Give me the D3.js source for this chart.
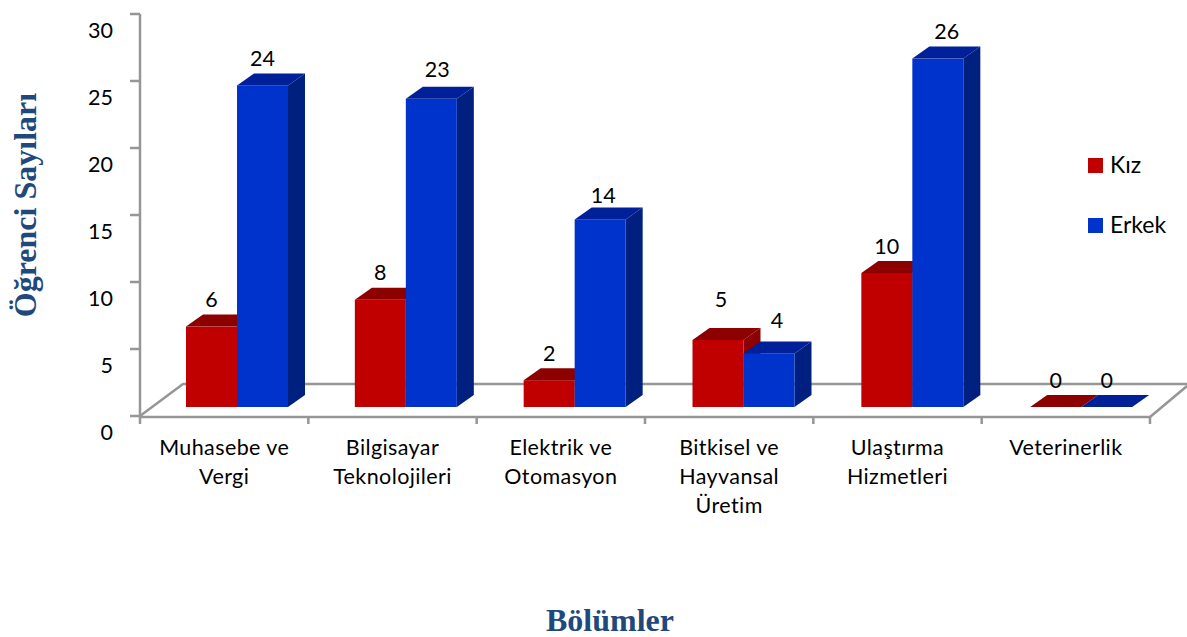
<!DOCTYPE html>
<meta charset="utf-8">
<style>
html, body { margin: 0; padding: 0; background: #fff; }
svg { display: block; }
text { font-family: Lato, sans-serif; fill: #000; }
.axis path, .axis line, .floor { fill: none; stroke: #969696; stroke-width: 2.5px; }
.title { font-family: "Liberation Serif", serif; font-weight: bold; font-size: 32px; fill: #1f497d; }
</style>
<body>
<script src="https://d3js.org/d3.v7.min.js"></script>
<script>
var categories = [
  ["Muhasebe ve", "Vergi"],
  ["Bilgisayar", "Teknolojileri"],
  ["Elektrik ve", "Otomasyon"],
  ["Bitkisel ve", "Hayvansal", "Üretim"],
  ["Ulaştırma", "Hizmetleri"],
  ["Veterinerlik"]
];
var kiz = [6, 8, 2, 5, 10, 0];
var erkek = [24, 23, 14, 4, 26, 0];
var seriesNames = ["Kız", "Erkek"];
var yTicks = [0, 5, 10, 15, 20, 25, 30];

var width = 1187, height = 637;
var depthX = 17, depthY = 12;   // 3d offset of the bars
var floorFront = 415.5, lift = 8.5;

var colors = {
  "Kız": {front: "#c00000", top: "#8c0000", side: "#8c0000"},
  "Erkek": {front: "#0033cc", top: "#00209a", side: "#002080"}
};

// hand placed value labels, the original chart moved some of them
var labelNudge = {
  "Erkek1": [6, -2],
  "Erkek2": [3, 3],
  "Kız3": [3, -14],
  "Erkek3": [8, -6],
  "Erkek4": [9, 0]
};

var svg = d3.select("body").append("svg")
    .attr("width", width)
    .attr("height", height);

var x = d3.scaleBand()
    .domain(d3.range(categories.length))
    .range([140, 1150]);

// bars sit on the floor a bit further right than the axis cells
var barX = d3.scaleBand()
    .domain(d3.range(categories.length))
    .range([186, 1199]);

var y = d3.scaleLinear()
    .domain([0, 30])
    .range([floorFront, 13.5]);

var inner = d3.scaleBand()
    .domain(seriesNames)
    .range([0, 102]);

// floor
svg.append("path")
    .attr("class", "floor")
    .attr("d", "M140,416L183,384H1187");
svg.append("path")
    .attr("class", "floor")
    .attr("d", "M1150,417L1187,386");

var yAxis = d3.axisLeft(y).tickValues(yTicks).tickSize(10).tickPadding(17);
var gy = svg.append("g")
    .attr("class", "axis")
    .attr("transform", "translate(140,0)")
    .call(yAxis);
gy.selectAll("text")
    .attr("dy", "1.1em")
    .style("font-size", "21.5px");
gy.select(".domain").attr("d", "M0,14V" + floorFront);

var xAxis = d3.axisBottom(x).tickValues([]).tickSize(0);
var gx = svg.append("g")
    .attr("class", "axis")
    .attr("transform", "translate(0,417)")
    .call(xAxis);
gx.select(".domain").attr("d", "M140,0H1150");
gx.selectAll(".sep")
    .data(d3.range(categories.length + 1))
  .enter().append("line")
    .attr("x1", function(d) { return 140 + d * x.bandwidth(); })
    .attr("x2", function(d) { return 140 + d * x.bandwidth(); })
    .attr("y1", 0)
    .attr("y2", 7);

// bars, drawn left to right so the blue front hides the red side
var base = floorFront - lift;
var bars = [];
categories.forEach(function(c, i) {
  bars.push({i: i, name: "Kız", value: kiz[i]});
  bars.push({i: i, name: "Erkek", value: erkek[i]});
});

var bar = svg.selectAll(".bar")
    .data(bars)
  .enter().append("g")
    .attr("class", "bar")
    .attr("transform", function(d) {
      return "translate(" + (barX(d.i) + inner(d.name)) + "," + base + ")";
    });

var w = inner.bandwidth();
function h(d) { return y(0) - y(d.value); }

bar.append("path")
    .attr("fill", function(d) { return colors[d.name].side; })
    .attr("d", function(d) {
      return "M" + w + ",0l" + depthX + "," + (-depthY) + "v" + (-h(d)) + "l" + (-depthX) + "," + depthY + "z";
    });
bar.append("rect")
    .attr("y", function(d) { return -h(d); })
    .attr("width", w)
    .attr("height", h)
    .attr("fill", function(d) { return colors[d.name].front; });
bar.append("path")
    .attr("fill", function(d) { return colors[d.name].top; })
    .attr("d", function(d) {
      return "M0," + (-h(d)) + "l" + depthX + "," + (-depthY) + "h" + w + "l" + (-depthX) + "," + depthY + "z";
    });

function nudge(d) { return labelNudge[d.name + d.i] || [0, 0]; }

// value labels go on top of everything
svg.selectAll(".value")
    .data(bars)
  .enter().append("text")
    .attr("class", "value")
    .attr("x", function(d) { return barX(d.i) + inner(d.name) + w / 2 + nudge(d)[0]; })
    .attr("y", function(d) { return base - h(d) - depthY - 7.5 + nudge(d)[1]; })
    .attr("text-anchor", "middle")
    .style("font-size", "21.5px")
    .text(function(d) { return d.value; });

// category labels
var catLabel = svg.selectAll(".cat")
    .data(categories)
  .enter().append("text")
    .attr("class", "cat")
    .attr("text-anchor", "middle")
    .style("font-size", "21.5px")
    .style("letter-spacing", "0.4px");
catLabel.selectAll("tspan")
    .data(function(d, i) { return d.map(function(t) { return {t: t, i: i}; }); })
  .enter().append("tspan")
    .attr("x", function(d) { return x(d.i) + x.bandwidth() / 2; })
    .attr("y", function(d, j) { return 455 + j * 29; })
    .text(function(d) { return d.t; });

// legend
var legend = svg.selectAll(".legend")
    .data(seriesNames)
  .enter().append("g")
    .attr("class", "legend")
    .attr("transform", function(d, i) { return "translate(1088," + (158 + i * 60) + ")"; });
legend.append("rect")
    .attr("width", 15)
    .attr("height", 15)
    .attr("fill", function(d) { return colors[d].front; });
legend.append("text")
    .attr("x", 22)
    .attr("y", 15)
    .style("font-size", "23px")
    .text(function(d) { return d; });

svg.append("text")
    .attr("class", "title")
    .attr("text-anchor", "middle")
    .attr("transform", "translate(36,205) rotate(-90)")
    .text("Öğrenci Sayıları");
svg.append("text")
    .attr("class", "title")
    .attr("text-anchor", "middle")
    .attr("x", 610)
    .attr("y", 631)
    .text("Bölümler");
</script>
</body>
</html>
